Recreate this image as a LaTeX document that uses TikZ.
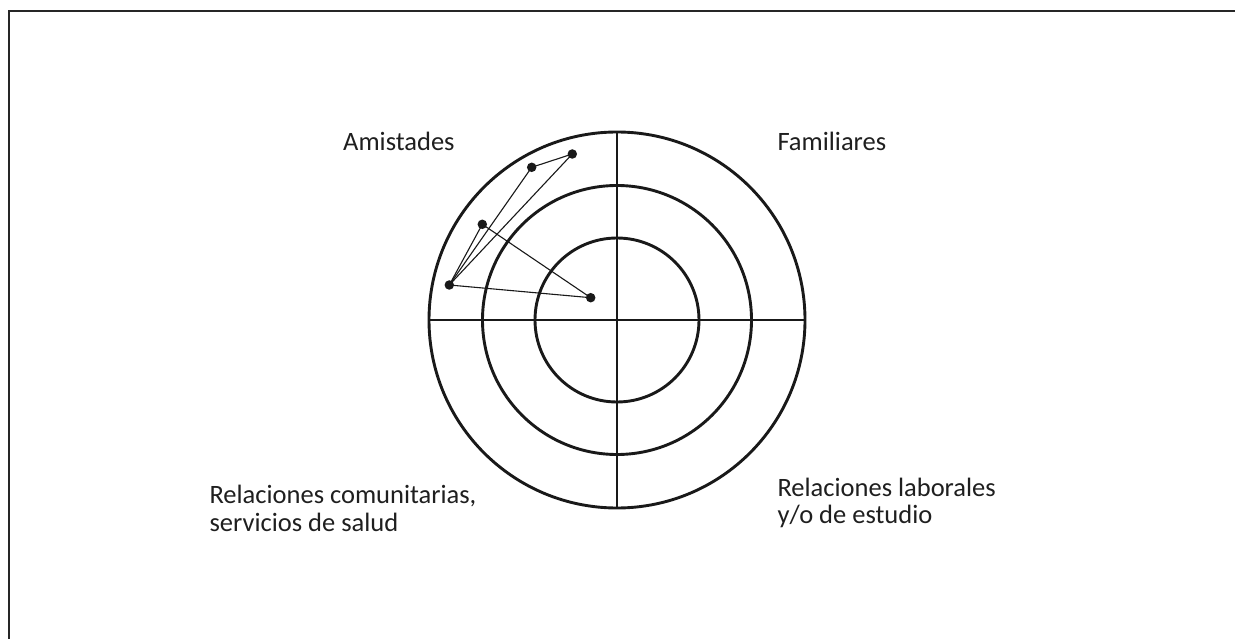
\documentclass[tikz,border=0pt]{standalone}
\usepackage{fontspec}
\setmainfont{Carlito}
\begin{document}
\begin{tikzpicture}[x=1pt,y=-1pt,
  ring/.style={line width=2.9pt,draw=black!90},
  frame/.style={line width=2pt,draw=black!85},
  link/.style={line width=1.1pt,draw=black!90},
  person/.style={circle,fill=black!90,inner sep=0pt,minimum size=9.5pt},
  lbl/.style={font=\fontsize{26.5}{27.5}\selectfont,text=black!88,inner sep=0pt,anchor=base west,align=left}]
\useasboundingbox (0,0) rectangle (1235,639);
\fill[white] (0,0) rectangle (1235,639);
\draw[frame] (9,639) -- (9,11) -- (1235,11);
\coordinate (O) at (617,320);
\draw[ring] (O) circle[radius=188];
\draw[ring] (O) circle[radius=134.5];
\draw[ring] (O) circle[radius=82];
\draw[ring] (429,320) -- (805,320);
\draw[ring] (617,132) -- (617,508);
\node[person] (a) at (572.3,154) {};
\node[person] (b) at (531.7,167.3) {};
\node[person] (c) at (482.3,224.3) {};
\node[person] (d) at (449.3,285) {};
\node[person] (e) at (590.7,297.7) {};
\draw[link] (d.center) -- (a.center);
\draw[link] (d.center) -- (b.center);
\draw[link] (a.center) -- (b.center);
\draw[link] (d.center) -- (c.center);
\draw[link] (c.center) -- (e.center);
\draw[link] (d.center) -- (e.center);
\node[lbl] (amist) at (343,150.7) {Amistades};
\node[lbl] (fam) at (777.3,150.7) {Familiares};
\node[lbl] (com) at (209.3,531) {Relaciones comunitarias,\\servicios de salud};
\node[lbl] (lab) at (777.3,523.5) {Relaciones laborales\\y/o de estudio};
\end{tikzpicture}
\end{document}
